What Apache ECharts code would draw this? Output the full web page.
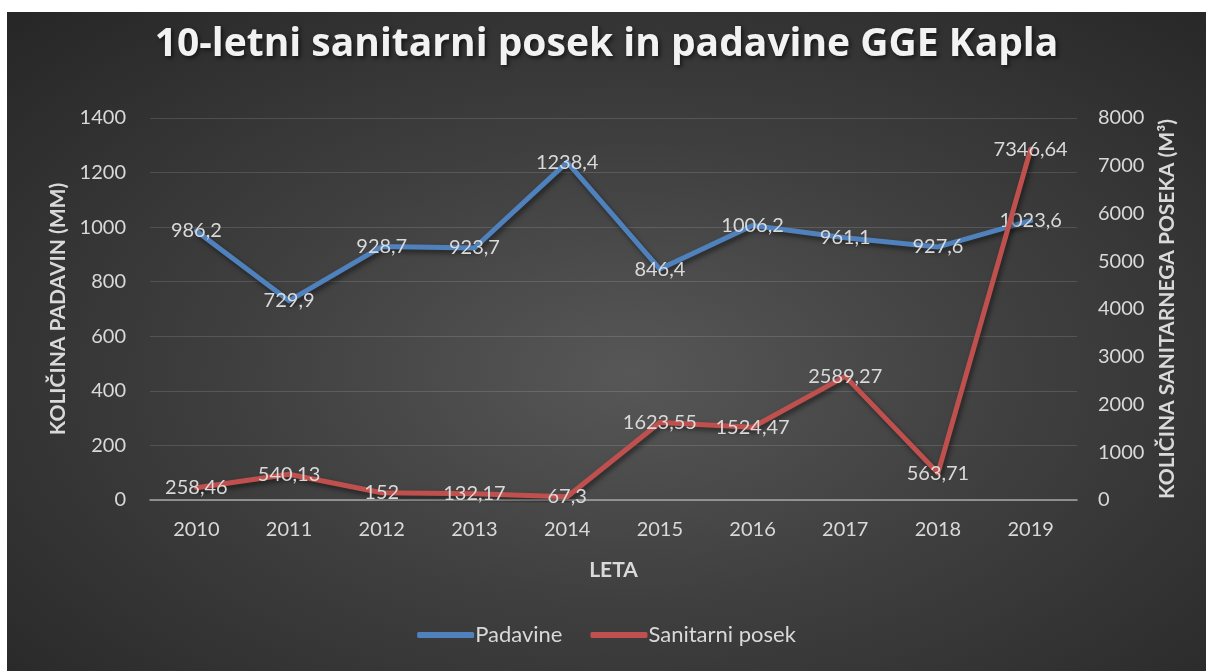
<!DOCTYPE html>
<html>
<head>
<meta charset="utf-8">
<script src="https://cdn.jsdelivr.net/npm/echarts@6/dist/echarts.min.js"></script>
<style>
html,body{margin:0;padding:0;background:#fff;width:1206px;height:671px;overflow:hidden;}
#wrap{position:absolute;left:7px;top:12px;width:1199px;height:659px;
background:radial-gradient(ellipse at 52% 55%, #575757 0%, #3f3f3f 45%, #262626 100%);}
#chart{width:1199px;height:659px;}
</style>
</head>
<body>
<div id="wrap"><div id="chart"></div></div>
<script>
const categories = ['2010','2011','2012','2013','2014','2015','2016','2017','2018','2019'];
const padavine = [986.2, 729.9, 928.7, 923.7, 1238.4, 846.4, 1006.2, 961.1, 927.6, 1023.6];
const sanitarniPosek = [258.46, 540.13, 152, 132.17, 67.3, 1623.55, 1524.47, 2589.27, 563.71, 7346.64];
const leftTicks = {min: 0, max: 1400, interval: 200};
const rightTicks = {min: 0, max: 8000, interval: 1000};

const FONT = 'Lato, "Open Sans", sans-serif';
const TXT = '#d9d9d9';
const fmt = p => String(p.value).replace('.', ',');
const plain = v => String(v);

const chart = echarts.init(document.getElementById('chart'), null, {renderer: 'canvas'});
chart.setOption({
  backgroundColor: 'transparent',
  textStyle: {fontFamily: FONT},
  title: {
    text: '10-letni sanitarni posek in padavine GGE Kapla',
    left: 'center', top: 13, padding: 0,
    textStyle: {color: '#f2f2f2', fontSize: 39, fontWeight: 'bold', fontFamily: '"Open Sans", sans-serif',
      textShadowColor: 'rgba(0,0,0,0.6)', textShadowBlur: 4, textShadowOffsetX: 2, textShadowOffsetY: 2}
  },
  legend: {
    bottom: 20, left: 'center',
    icon: 'roundRect', itemWidth: 57, itemHeight: 6, itemGap: 28,
    textStyle: {color: TXT, fontSize: 22, fontFamily: FONT, padding: [0,0,0,-4]},
    data: ['Padavine', 'Sanitarni posek']
  },
  grid: {left: 143, right: 129, top: 106, bottom: 171, containLabel: false},
  xAxis: {
    type: 'category', data: categories, boundaryGap: true,
    name: 'LETA', nameLocation: 'middle', nameGap: 60,
    nameTextStyle: {color: TXT, fontSize: 21, fontWeight: 'bold', fontFamily: FONT},
    axisLine: {lineStyle: {color: '#a6a6a6', width: 1.5}},
    axisTick: {show: false},
    axisLabel: {color: TXT, fontSize: 20, margin: 20, fontFamily: FONT}
  },
  yAxis: [{
    type: 'value', min: leftTicks.min, max: leftTicks.max, interval: leftTicks.interval,
    name: 'KOLIČINA PADAVIN (MM)', nameLocation: 'middle', nameGap: 80, nameRotate: 90,
    nameTextStyle: {color: TXT, fontSize: 21, fontWeight: 'bold', fontFamily: FONT},
    axisLine: {show: false}, axisTick: {show: false},
    axisLabel: {color: TXT, fontSize: 20, margin: 24, fontFamily: FONT, formatter: plain},
    splitLine: {lineStyle: {color: 'rgba(255,255,255,0.13)', width: 1}}
  }, {
    type: 'value', min: rightTicks.min, max: rightTicks.max, interval: rightTicks.interval,
    name: 'KOLIČINA SANITARNEGA POSEKA (M³)', nameLocation: 'middle', nameGap: 80, nameRotate: 90,
    nameTextStyle: {color: TXT, fontSize: 21, fontWeight: 'bold', fontFamily: FONT},
    axisLine: {show: false}, axisTick: {show: false},
    axisLabel: {color: TXT, fontSize: 20, margin: 21, fontFamily: FONT, formatter: plain},
    splitLine: {show: false}
  }],
  series: [{
    name: 'Padavine', type: 'line', yAxisIndex: 0, data: padavine,
    symbol: 'circle', symbolSize: 2, showSymbol: true,
    itemStyle: {color: '#4f81bd'},
    lineStyle: {color: '#4f81bd', width: 5, cap: 'round', join: 'round',
      shadowColor: 'rgba(0,0,0,0.5)', shadowBlur: 5, shadowOffsetX: 2, shadowOffsetY: 3},
    label: {show: true, position: 'inside', color: TXT, fontSize: 20, fontFamily: FONT, formatter: fmt},
    labelLayout: {hideOverlap: false},
    z: 3
  }, {
    name: 'Sanitarni posek', type: 'line', yAxisIndex: 1, data: sanitarniPosek,
    symbol: 'circle', symbolSize: 2, showSymbol: true,
    itemStyle: {color: '#c0504d'},
    lineStyle: {color: '#c0504d', width: 5, cap: 'round', join: 'round',
      shadowColor: 'rgba(0,0,0,0.5)', shadowBlur: 5, shadowOffsetX: 2, shadowOffsetY: 3},
    label: {show: true, position: 'inside', color: TXT, fontSize: 20, fontFamily: FONT, formatter: fmt},
    labelLayout: {hideOverlap: false},
    z: 4
  }]
});
</script>
</body>
</html>
